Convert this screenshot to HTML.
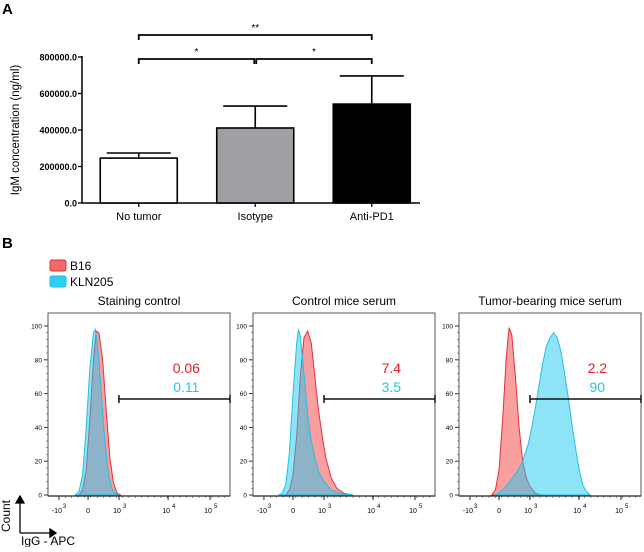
<!DOCTYPE html>
<html><head><meta charset="utf-8"><style>
body{margin:0;background:#fff;width:644px;height:547px;overflow:hidden}
svg{font-family:"Liberation Sans",Arial,sans-serif}
</style></head><body>
<svg id="fig" width="644" height="547" viewBox="0 0 644 547">
<text x="2" y="14" font-size="15" font-weight="bold">A</text>
<text x="2" y="248" font-size="15" font-weight="bold">B</text>
<g id="barchart"></g>
<g>
<rect x="50" y="260" width="16" height="11" rx="2" fill="#f26a6a" stroke="#e03030"/>
<text x="70" y="270" font-size="12">B16</text>
<rect x="50" y="276" width="16" height="11" rx="2" fill="#2ed0f0" stroke="#20b8e0"/>
<text x="70" y="286" font-size="12">KLN205</text>
</g>
<g id="flow"></g>
<g stroke="#000" stroke-width="1.3">
<line x1="20" y1="533" x2="20" y2="500"/><polygon points="16,503 24,503 20,496" fill="#000"/>
<line x1="20" y1="533" x2="52" y2="533"/><polygon points="50,529 50,537 56,533" fill="#000"/>
</g>
<text transform="translate(10,532) rotate(-90)" font-size="12">Count</text>
<text x="21" y="545" font-size="12">IgG - APC</text>
</svg>
<script>
const NS="http://www.w3.org/2000/svg";
function mk(p,t,a,txt){const e=document.createElementNS(NS,t);for(const k in a)e.setAttribute(k,a[k]);if(txt!==undefined)e.textContent=txt;p.appendChild(e);return e;}
// ---- Panel A data ----
const categories=["No tumor","Isotype","Anti-PD1"];
const means=[246000,411000,542000];
const errs=[28000,120000,154000];
const fills=["#ffffff","#a0a0a4","#000000"];
const yTicks=[0,200000,400000,600000,800000];
const yTickLabels=["0.0","200000.0","400000.0","600000.0","800000.0"];
const sigPairs=[[0,2,"**"],[0,1,"*"],[1,2,"*"]];
const bc=document.getElementById('barchart');
const y0=203,yTop=57,vmax=800000;
const Y=v=>y0-(v/vmax)*(y0-yTop);
const axisX=82,bandL=80.5,bandW=116.5;
const Xc=i=>bandL+bandW*(i+0.5);
const barW=77,capW=64;
mk(bc,'line',{x1:axisX,y1:Y(0),x2:axisX,y2:Y(vmax)-1,stroke:'#000','stroke-width':1.5});
mk(bc,'line',{x1:axisX,y1:Y(0),x2:420,y2:Y(0),stroke:'#000','stroke-width':1.5});
yTicks.forEach((t,i)=>{
 const tk=mk(bc,'line',{x1:axisX-4,y1:Y(t),x2:axisX,y2:Y(t),stroke:'#000','stroke-width':1.3});
 
 const l=mk(bc,'text',{x:axisX-5,y:Y(t)+3.5,'font-size':9,'font-weight':'bold','text-anchor':'end'},yTickLabels[i]);
 
});
categories.forEach((c,i)=>{
 const cx=Xc(i);
 const b=mk(bc,'rect',{x:cx-barW/2,y:Y(means[i]),width:barW,height:Y(0)-Y(means[i]),fill:fills[i],stroke:'#000','stroke-width':1.6});
 
 const e=mk(bc,'path',{d:`M${cx},${Y(means[i])} V${Y(means[i]+errs[i])} M${cx-capW/2},${Y(means[i]+errs[i])} H${cx+capW/2}`,stroke:'#000','stroke-width':1.6,fill:'none'});
 
 mk(bc,'line',{x1:cx,y1:Y(0),x2:cx,y2:Y(0)+4,stroke:'#000','stroke-width':1.3});
 const l=mk(bc,'text',{x:cx,y:220,'font-size':11,'text-anchor':'middle'},c);
 
});
sigPairs.forEach(([a,b,s])=>{
 const yy=(b-a===2)?35:59;
 const xa=Xc(a)+(a>0?1:0),xb=Xc(b)-(b-a===1&&a===0?1:0);
 const p=mk(bc,'path',{d:`M${xa},${yy+5} V${yy} H${xb} V${yy+5}`,stroke:'#000','stroke-width':1.8,fill:'none'});
 
 const t=mk(bc,'text',{x:(xa+xb)/2,y:yy-4,'font-size':10,'text-anchor':'middle'},s);
 
});
const yl=mk(bc,'text',{transform:'translate(19,130) rotate(-90)','font-size':11.5,'text-anchor':'middle'},'IgM concentration (ng/ml)');


// ---- Panel B data (channel 0-100 across axis, count % of max) ----
const panelTitles=["Staining control","Control mice serum","Tumor-bearing mice serum"];
const redPct=["0.06","7.4","2.2"];
const bluePct=["0.11","3.5","90"];
const red1Ch=[17,19,21,23,25,26.5,28,30,32,34,36,38,40];
const red1Ct=[0,3,15,45,80,97,96,80,50,22,7,1,0];
const blue1Ch=[15,17,19,21,23,25,26,27,29,31,33,35,37,39];
const blue1Ct=[0,2,12,40,75,96,98,92,65,35,14,4,1,0];
const red2Ch=[18,20,22,24,26,28,30,32,34,36,38,40,43,46,50,55];
const red2Ct=[0,3,12,35,70,93,97,90,70,50,35,22,10,4,1,0];
const blue2Ch=[14,16,18,20,22,24,25,26,28,30,32,34,36,39,43,48,55];
const blue2Ct=[0,1,6,25,60,90,98,94,72,48,32,22,14,8,3,1,0];
const red3Ch=[18,20,22,24,26,27.5,29,31,33,35,37,39,42,45];
const red3Ct=[0,3,15,45,82,99,95,70,40,20,10,5,1,0];
const blue3Ch=[20,24,28,32,35,38,40,42,44,46,48,50,52,54,56,58,60,62,64,66,68,70,72];
const blue3Ct=[0,3,8,14,20,30,40,52,65,78,88,93,96,93,85,72,58,42,28,15,6,2,0];
const series=[[red1Ch,red1Ct,blue1Ch,blue1Ct],[red2Ch,red2Ct,blue2Ch,blue2Ct],[red3Ch,red3Ct,blue3Ch,blue3Ct]];
const xTickCh=[6,22,39,66,89];
const xTickLab=["-10","0","10","10","10"];
const xTickExp=["3","","3","4","5"];
const gateCh=[39,100];
const cTicks=[0,20,40,60,80,100];
const lefts=[48,253,459],pw=182,ptop=313,pbot=496;
const fl=document.getElementById('flow');
panelTitles.forEach((ttl,k)=>{
 const L=lefts[k];
 const X=c=>L+c/100*pw;
 const Yc=v=>495-v*1.69;
 const g=mk(fl,'g',{});
 
 const t=mk(g,'text',{x:L+pw/2,y:305,'font-size':12,'text-anchor':'middle'},ttl);
 
 const [rc,rv,bc2,bv]=series[k];
 const path=(ch,ct)=>'M'+X(ch[0])+','+Yc(0)+ch.map((c,i)=>'L'+X(c)+','+Yc(ct[i])).join('')+'Z';
 const r=mk(g,'path',{d:path(rc,rv),fill:'rgba(245,80,80,0.55)',stroke:'#e0303a','stroke-width':1});
 
 const b=mk(g,'path',{d:path(bc2,bv),fill:'rgba(30,200,240,0.5)',stroke:'#22c0e0','stroke-width':1});
 
 mk(g,'rect',{x:L,y:ptop,width:pw,height:pbot-ptop,fill:'none',stroke:'#555','stroke-width':1});
 mk(g,'line',{x1:L,y1:pbot,x2:L+pw,y2:pbot,stroke:'#222','stroke-width':1.3});
 cTicks.forEach(v=>{
  mk(g,'line',{x1:L-4,y1:Yc(v),x2:L,y2:Yc(v),stroke:'#333'});
  const l=mk(g,'text',{x:L-6,y:Yc(v)+2.5,'font-size':6.5,'text-anchor':'end'},String(v));
  
 });
 for(let v=4;v<100;v+=4) mk(g,'line',{x1:L-2,y1:Yc(v),x2:L,y2:Yc(v),stroke:'#555','stroke-width':0.6});
 xTickCh.forEach((c,i)=>{
  mk(g,'line',{x1:X(c),y1:pbot,x2:X(c),y2:pbot+4,stroke:'#222'});
  const l=mk(g,'text',{x:X(c)+(xTickExp[i]?-2:0),y:pbot+17,'font-size':7,'text-anchor':'middle'},xTickLab[i]);
  
  if(xTickExp[i]) mk(g,'text',{x:X(c)+4,y:pbot+12,'font-size':6},xTickExp[i]);
 });
 for(let c=6;c<100;c+=3.5) mk(g,'line',{x1:X(c),y1:pbot,x2:X(c),y2:pbot+2,stroke:'#444','stroke-width':0.6});
 const gy=399;
 const gt=mk(g,'path',{d:`M${X(gateCh[0])},${gy-4}V${gy+4}M${X(gateCh[0])},${gy}H${X(gateCh[1])}M${X(gateCh[1])},${gy-4}V${gy+4}`,stroke:'#111','stroke-width':1.5,fill:'none'});
 
 const rt=mk(g,'text',{x:X(76),y:373,'font-size':14,fill:'#e0202a','text-anchor':'middle'},redPct[k]);
 
 const bt=mk(g,'text',{x:X(76),y:392,'font-size':14,fill:'#28c4e4','text-anchor':'middle'},bluePct[k]);
 
});
</script>
</body></html>
